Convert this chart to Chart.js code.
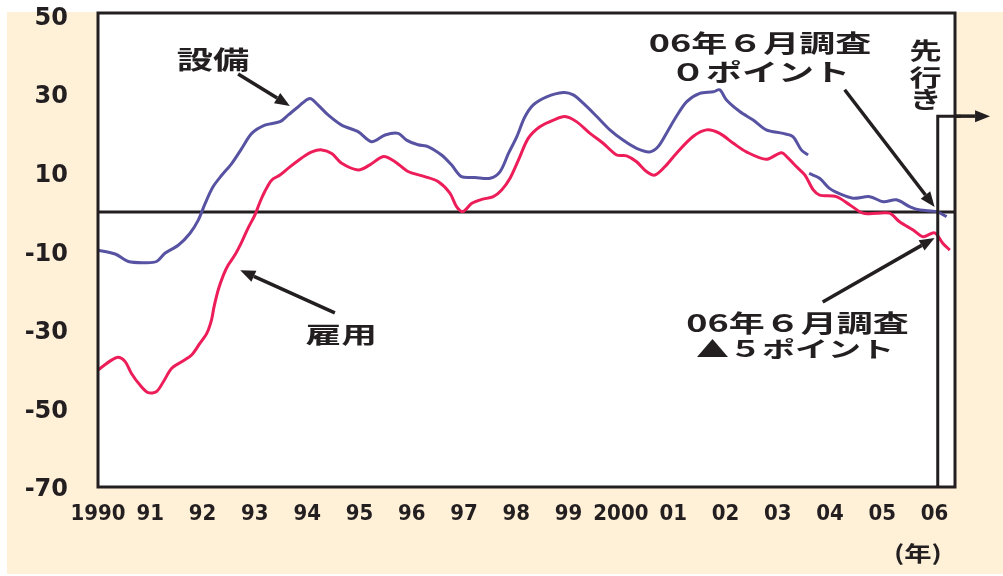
<!DOCTYPE html>
<html>
<head>
<meta charset="utf-8">
<script src="https://cdn.jsdelivr.net/npm/chart.js@4/dist/chart.umd.min.js"></script>
<style>
  html, body { margin: 0; padding: 0; background: #fff; }
  canvas { display: block; }
</style>
</head>
<body>
<canvas id="di" width="1003" height="576"></canvas>
<script>
// 設備 (blue) — break in series around 2003.6
const setsubiYears = [1990.0, 1990.33, 1990.58, 1990.9, 1991.12, 1991.28, 1991.54, 1991.76, 1991.92, 1992.05,
  1992.2, 1992.37, 1992.56, 1992.75, 1992.94, 1993.19, 1993.48, 1993.64, 1993.83, 1994.05,
  1994.21, 1994.4, 1994.66, 1994.98, 1995.23, 1995.49, 1995.74, 1995.9, 1996.12, 1996.32,
  1996.57, 1996.76, 1996.95, 1997.21, 1997.5, 1997.69, 1997.85, 1998.01, 1998.16, 1998.32,
  1998.58, 1998.9, 1999.09, 1999.28, 1999.54, 1999.79, 2000.04, 2000.3, 2000.55, 2000.71,
  2000.87, 2001.06, 2001.26, 2001.51, 2001.77, 2001.89, 2002.02, 2002.28, 2002.53, 2002.78,
  2003.1, 2003.29, 2003.45, 2003.58, 2003.59, 2003.6, 2003.8, 2003.99, 2004.19, 2004.44,
  2004.76, 2005.02, 2005.27, 2005.53, 2005.72, 2006.04, 2006.23];
const setsubiValues = [-9.7, -10.7, -12.6, -12.9, -12.6, -10.5, -8.4, -5.4, -2.0, 2.2,
  6.4, 9.4, 12.4, 16.2, 20.0, 22.1, 23.0, 24.7, 26.8, 28.9,
  27.2, 24.7, 22.1, 20.4, 17.9, 19.6, 20.0, 18.3, 17.1, 16.6,
  14.5, 12.0, 9.0, 8.8, 8.6, 10.3, 14.9, 19.2, 24.1, 27.2,
  29.3, 30.4, 29.8, 27.7, 24.3, 20.9, 18.3, 16.2, 15.3, 16.6,
  20.0, 24.3, 28.1, 30.2, 30.6, 31.1, 28.5, 25.5, 23.4, 20.9,
  20.0, 19.2, 15.8, 14.5, null, 9.8, 8.6, 6.0, 4.6, 3.5,
  3.9, 2.6, 3.1, 1.3, 0.5, 0.1, -1.2];

// 雇用 (red)
const koyoYears = [1990.0, 1990.26, 1990.39, 1990.52, 1990.64, 1990.8, 1990.96, 1991.12, 1991.25, 1991.41,
  1991.6, 1991.79, 1991.95, 1992.08, 1992.17, 1992.22, 1992.3, 1992.4, 1992.49, 1992.62,
  1992.75, 1992.87, 1993.0, 1993.1, 1993.19, 1993.32, 1993.48, 1993.67, 1993.89, 1994.09,
  1994.28, 1994.47, 1994.66, 1994.98, 1995.2, 1995.46, 1995.68, 1995.93, 1996.25, 1996.51,
  1996.73, 1996.86, 1996.98, 1997.15, 1997.34, 1997.56, 1997.72, 1997.88, 1998.04, 1998.23,
  1998.45, 1998.71, 1998.93, 1999.15, 1999.41, 1999.66, 1999.92, 2000.11, 2000.3, 2000.49,
  2000.65, 2000.84, 2001.06, 2001.38, 2001.64, 2001.89, 2002.15, 2002.4, 2002.78, 2003.07,
  2003.2, 2003.36, 2003.52, 2003.68, 2003.8, 2004.12, 2004.38, 2004.63, 2004.89, 2005.14,
  2005.33, 2005.59, 2005.78, 2006.0, 2006.16, 2006.29];
const koyoValues = [-40.2, -37.7, -37.0, -38.1, -41.1, -44.0, -46.0, -45.7, -43.2, -39.8,
  -38.1, -36.4, -33.4, -30.9, -27.5, -24.1, -19.8, -16.0, -13.5, -10.9,
  -7.6, -4.1, -0.8, 2.6, 5.2, 8.1, 9.4, 11.5, 13.7, 15.3,
  15.8, 14.9, 12.4, 10.7, 12.0, 14.1, 12.8, 10.3, 9.0, 7.7,
  4.8, 1.3, 0.1, 2.2, 3.2, 3.9, 5.6, 8.6, 13.2, 18.8,
  21.7, 23.4, 24.3, 23.0, 20.0, 17.5, 14.5, 14.3, 12.8, 10.3,
  9.4, 11.5, 14.9, 19.2, 20.9, 20.0, 17.5, 15.3, 13.4, 15.1,
  13.7, 11.5, 9.4, 5.6, 4.3, 3.9, 1.8, -0.3, -0.3, -0.3,
  -2.5, -4.6, -6.3, -5.3, -8.0, -9.7];

const yTicks = [50, 30, 10, -10, -30, -50, -70];
const xTickYears = [1990, 1991, 1992, 1993, 1994, 1995, 1996, 1997, 1998, 1999, 2000, 2001, 2002, 2003, 2004, 2005, 2006];
const xTickLabels = ["1990", "91", "92", "93", "94", "95", "96", "97", "98", "99", "2000", "01", "02", "03", "04", "05", "06"];

const SURVEY_LINE = 2006.06; // 06年6月調査の区切り線

const INK = "#231f20";
const CREAM = "#fff0d8";
const CJK = '"Noto Sans CJK JP", "Noto Sans", sans-serif';

function toPoints(xs, ys) {
  return xs.map((x, i) => ({ x, y: ys[i] }));
}

function stretchText(ctx, text, x, y, size, sx) {
  ctx.save();
  ctx.translate(x, y);
  ctx.scale(sx, 1);
  ctx.font = `bold ${size}px ${CJK}`;
  ctx.fillStyle = INK;
  ctx.textAlign = "center";
  ctx.textBaseline = "middle";
  ctx.fillText(text, 0, 0);
  ctx.restore();
}

function arrow(ctx, x1, y1, x2, y2) {
  const a = Math.atan2(y2 - y1, x2 - x1);
  const len = 15, half = 6;
  const bx = x2 - len * Math.cos(a), by = y2 - len * Math.sin(a);
  ctx.save();
  ctx.strokeStyle = INK;
  ctx.fillStyle = INK;
  ctx.lineWidth = 3.5;
  ctx.beginPath();
  ctx.moveTo(x1, y1);
  ctx.lineTo(bx, by);
  ctx.stroke();
  ctx.beginPath();
  ctx.moveTo(x2, y2);
  ctx.lineTo(bx + half * Math.sin(a), by - half * Math.cos(a));
  ctx.lineTo(bx - half * Math.sin(a), by + half * Math.cos(a));
  ctx.closePath();
  ctx.fill();
  ctx.restore();
}

// 背景: 上端の白帯, クリーム地, 白いプロット領域
const backdrop = {
  id: "backdrop",
  beforeDraw(chart) {
    const { ctx, chartArea: a } = chart;
    ctx.save();
    ctx.fillStyle = "#fff";
    ctx.fillRect(0, 0, chart.width, chart.height);
    ctx.fillStyle = CREAM;
    ctx.fillRect(7, 12, chart.width - 7, chart.height - 14);
    ctx.fillStyle = "#fff";
    ctx.fillRect(a.left, a.top, a.right - a.left, a.bottom - a.top);
    ctx.restore();
  },
  beforeDatasetsDraw(chart) {
    const { ctx, chartArea: a, scales: { y } } = chart;
    const y0 = y.getPixelForValue(0);
    ctx.save();
    ctx.strokeStyle = INK;
    ctx.lineWidth = 3;
    ctx.beginPath();
    ctx.moveTo(a.left, y0);
    ctx.lineTo(a.right, y0);
    ctx.stroke();
    ctx.restore();
  }
};

// 枠線と注記
const notes = {
  id: "notes",
  afterDatasetsDraw(chart) {
    const { ctx, chartArea: a, scales: { x, y } } = chart;
    const px = (v) => x.getPixelForValue(v);
    const py = (v) => y.getPixelForValue(v);

    ctx.save();
    ctx.strokeStyle = INK;
    ctx.lineWidth = 3;
    ctx.strokeRect(a.left, a.top, a.right - a.left, a.bottom - a.top);

    // 区切り線 + 先行き矢印
    const sx = px(SURVEY_LINE), sy = py(24.4);
    ctx.beginPath();
    ctx.moveTo(sx, a.bottom);
    ctx.lineTo(sx, sy);
    ctx.lineTo(px(2006.5), sy);
    ctx.stroke();
    ctx.restore();
    arrow(ctx, px(2006.4), sy, px(2007.06), sy);

    // 設備
    stretchText(ctx, "設備", px(1992.2), py(38.9), 25, 1.45);
    arrow(ctx, px(1992.68), py(35.1), px(1993.67), py(27.0));

    // 雇用
    stretchText(ctx, "雇用", px(1994.65), py(-31.1), 23, 1.55);
    arrow(ctx, px(1994.53), py(-25.7), px(1992.72), py(-14.8));

    // 06年6月調査 0ポイント
    stretchText(ctx, "06年６月調査", px(2002.66), py(43.0), 24, 1.5);
    stretchText(ctx, "０ポイント", px(2002.66), py(35.6), 24, 1.5);
    arrow(ctx, px(2004.28), py(31.1), px(2006.0), py(1.3));

    // 06年6月調査 ▲5ポイント
    stretchText(ctx, "06年６月調査", px(2003.38), py(-28.3), 24, 1.5);
    stretchText(ctx, "▲５ポイント", px(2003.33), py(-34.9), 22, 1.5);
    arrow(ctx, px(2003.86), py(-22.9), px(2006.0), py(-6.6));

    // 先行き (縦書き)
    const vx = px(2005.83);
    stretchText(ctx, "先", vx, py(41.2), 23, 1.4);
    stretchText(ctx, "行", vx, py(34.4), 23, 1.4);
    stretchText(ctx, "き", vx, py(28.8), 23, 1.4);

    // (年)
    stretchText(ctx, "(年)", px(2005.68), a.bottom + 66, 21, 1.3);
  }
};

const canvas = document.getElementById("di");
new Chart(canvas.getContext("2d"), {
  type: "line",
  data: {
    datasets: [
      {
        label: "設備",
        data: toPoints(setsubiYears, setsubiValues),
        borderColor: "#5753a2",
        borderWidth: 3,
        pointRadius: 0,
        tension: 0.3,
        spanGaps: false
      },
      {
        label: "雇用",
        data: toPoints(koyoYears, koyoValues),
        borderColor: "#ec1d58",
        borderWidth: 3,
        pointRadius: 0,
        tension: 0.3
      }
    ]
  },
  options: {
    responsive: false,
    animation: false,
    layout: { padding: { top: 13, right: 48, left: 0, bottom: 0 } },
    plugins: { legend: { display: false }, tooltip: { enabled: false } },
    scales: {
      x: {
        type: "linear",
        min: 1990,
        max: 2006.39,
        afterBuildTicks: (s) => { s.ticks = xTickYears.map((v) => ({ value: v })); },
        afterFit: (s) => { s.height = 89; s.paddingLeft = 0; s.paddingRight = 0; },
        grid: { display: false, drawTicks: false },
        border: { display: false },
        ticks: {
          autoSkip: false,
          maxRotation: 0,
          padding: 14,
          color: INK,
          font: { family: '"Liberation Sans Narrow", "DejaVu Sans Condensed", "Liberation Sans", sans-serif', size: 22, weight: "bold" },
          callback: (v) => xTickLabels[xTickYears.indexOf(v)]
        }
      },
      y: {
        min: -70,
        max: 50.65,
        afterBuildTicks: (s) => { s.ticks = yTicks.map((v) => ({ value: v })); },
        afterFit: (s) => { s.width = 98; s.paddingTop = 0; s.paddingBottom = 0; },
        grid: { display: false, drawTicks: false },
        border: { display: false },
        ticks: {
          padding: 30,
          labelOffset: 3,
          color: INK,
          font: { family: '"DejaVu Sans", sans-serif', size: 24, weight: "bold" }
        }
      }
    }
  },
  plugins: [backdrop, notes]
});
</script>
</body>
</html>
